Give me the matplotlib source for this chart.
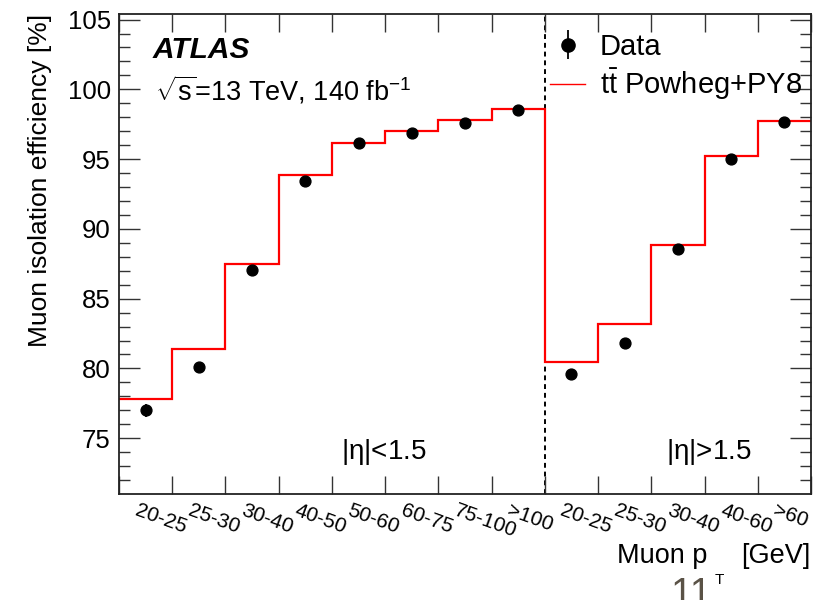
import matplotlib
matplotlib.use("Agg")
import matplotlib.pyplot as plt
from matplotlib.lines import Line2D
import numpy as np

plt.rcParams['font.family'] = ['Liberation Sans', 'DejaVu Sans']
plt.rcParams['mathtext.fontset'] = 'custom'
plt.rcParams['mathtext.rm'] = 'Liberation Sans'
plt.rcParams['mathtext.it'] = 'Liberation Sans:italic'
plt.rcParams['mathtext.bf'] = 'Liberation Sans:bold'

# ---- data ----
bin_labels = ["20-25", "25-30", "30-40", "40-50", "50-60", "60-75", "75-100", ">100",
              "20-25", "25-30", "30-40", "40-60", ">60"]
data_eff = [77.0, 80.1, 87.03, 93.44, 96.14, 96.90, 97.60, 98.49,
            79.6, 81.8, 88.57, 95.01, 97.67]
data_err = [0.45, 0.25, 0.2, 0.15, 0.1, 0.1, 0.1, 0.1,
            0.25, 0.2, 0.15, 0.15, 0.1]
mc_eff = [77.84, 81.37, 87.51, 93.88, 96.14, 97.05, 97.79, 98.56,
          80.48, 83.17, 88.88, 95.20, 97.72]
n_central = 8
region_labels = [r"|$\mathrm{\eta}$|<1.5", r"|$\mathrm{\eta}$|>1.5"]

W, H = 819, 600
fig = plt.figure(figsize=(W/100, H/100), dpi=100)
L, R, B, T = 119, 811, 494, 14
ax = fig.add_axes([L/W, 1-B/H, (R-L)/W, (B-T)/H])

n = len(data_eff)
edges = np.arange(n + 1)
centers = edges[:-1] + 0.5

ax.stairs(mc_eff, edges, baseline=None, color='#ff0000', lw=1.6, zorder=2)
ax.errorbar(centers, data_eff, yerr=data_err, fmt='o', color='black',
            ms=7.8, elinewidth=1.3, capsize=0, zorder=3)
ax.axvline(n_central, color='black', ls=(0, (2.5, 2)), lw=1.4, zorder=1)

ax.set_xlim(0, n)
ax.set_ylim(71.0, 105.4)
ax.set_xticks(edges)
ax.set_xticklabels([])
ax.set_yticks(np.arange(75, 106, 5))
ax.set_yticks(np.arange(72, 106, 1), minor=True)
ax.tick_params(axis='both', which='both', direction='in', top=True, right=True,
               width=1.0, color='#333333')
ax.tick_params(axis='y', which='major', length=15, labelsize=18.5, pad=6)
ax.tick_params(axis='y', which='minor', length=8)
ax.tick_params(axis='x', which='major', length=13)
ax.tick_params(axis='x', which='minor', length=0)
for s in ax.spines.values():
    s.set_linewidth(1.3)
    s.set_color('#222222')

# rotated bin labels, anchored at their upper-left corner
for e, lab in zip(edges[:-1], bin_labels):
    ax.text(e + 0.37, -0.015, lab, transform=ax.get_xaxis_transform(),
            rotation=-20, rotation_mode='anchor', ha='left', va='top',
            fontsize=15)

ax.set_ylabel("Muon isolation efficiency [%]", fontsize=19, loc='top', labelpad=11)

# x-axis title (as in the reference, with the T subscript displaced)
fig.text(617/W, 1-563/H, "Muon p", ha='left', va='baseline', fontsize=19.5)
fig.text(810/W, 1-563/H, "[GeV]", ha='right', va='baseline', fontsize=19.5)
fig.text(719/W, 1-580/H, "T", ha='center', va='center', fontsize=11)
fig.text(691/W, 1-577/H, "11", ha='center', va='top', fontsize=28, color='#5a5246')

# ATLAS label
ax.text(153/W, 1-58/H, "ATLAS", transform=fig.transFigure, fontsize=21.5,
        fontweight='bold', fontstyle='italic', va='baseline', ha='left')
ax.text(155/W, 1-100/H, r"$\sqrt{\mathrm{s}}$=13 TeV, 140 fb$^{\mathrm{-1}}$",
        transform=fig.transFigure, fontsize=19.5, va='baseline', ha='left')

# region labels
ax.text(384/W, 1-452/H, region_labels[0], transform=fig.transFigure,
        fontsize=20, ha='center', va='center')
ax.text(709/W, 1-452/H, region_labels[1], transform=fig.transFigure,
        fontsize=20, ha='center', va='center')

# legend
h_data = ax.errorbar([], [], yerr=[], fmt='o', color='black', ms=9.5, elinewidth=1.3)
h_mc = Line2D([], [], color='#ff0000', lw=1.0)
leg = ax.legend([h_data, h_mc], ["Data", r"t$\mathrm{\bar{t}}$ Powheg+PY8"],
                loc='upper left', bbox_to_anchor=(550/W, 1-33/H),
                bbox_transform=fig.transFigure, frameon=False, fontsize=21,
                handlelength=1.2, handletextpad=0.5, labelspacing=0.2,
                borderaxespad=0, borderpad=0)

fig.savefig("out.png", dpi=100)
